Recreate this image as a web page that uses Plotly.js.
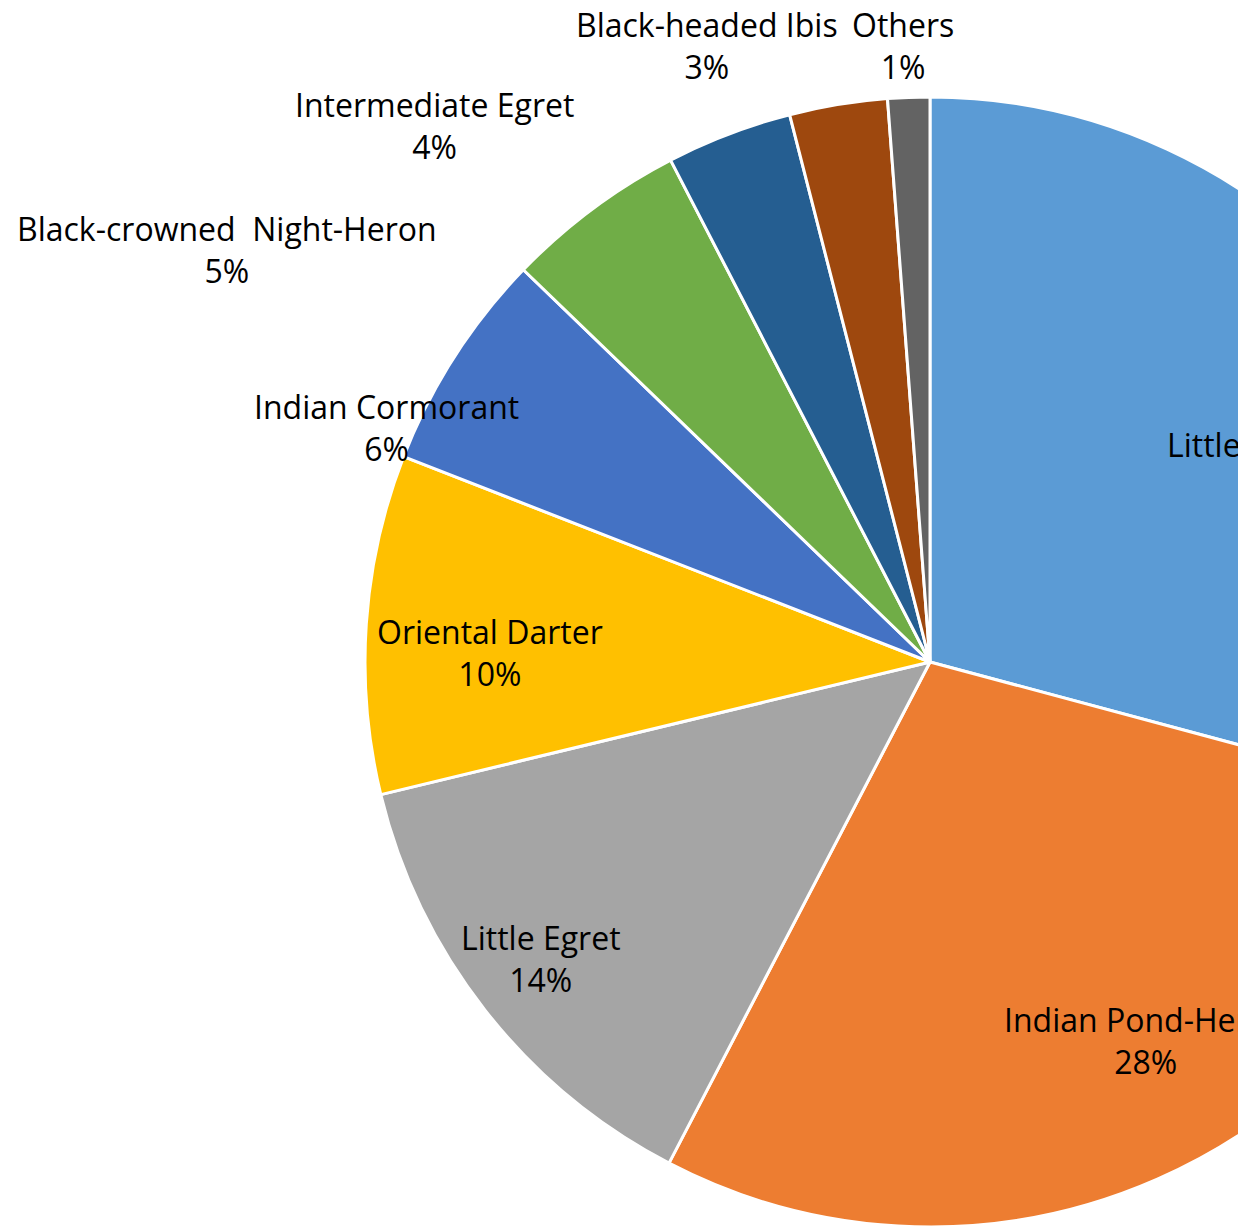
<!DOCTYPE html>
<html>
<head>
<meta charset="utf-8">
<script src="https://cdn.plot.ly/plotly-3.0.1.min.js"></script>
<style>
html,body{margin:0;padding:0;overflow:hidden;background:#fff;}
#chart{width:1600px;height:1228px;}
</style>
</head>
<body>
<div id="chart"></div>
<script>
// ---- data ----
const species = ["Little Cormorant","Indian Pond-Heron","Little Egret","Oriental Darter","Indian Cormorant","Black-crowned  Night-Heron","Intermediate Egret","Black-headed Ibis","Others"];
const shares = [29.2,28.5,13.6,9.7,6.3,5.2,3.6,2.8,1.2];
const colors = ["#5B9BD5","#ED7D31","#A5A5A5","#FFC000","#4472C4","#70AD47","#255E91","#9E480E","#636363"];

// ---- layout ----
const W = 1600, H = 1228, cx = 930, cy = 662, r = 565;
// label anchor points (pixels from top-left), one per slice, in the same order
const labelPx = [[1289,466],[1145,1040],[541,958],[490,652],[386,428],[227,250],[434,125],[707,45],[903,45]];

const total = shares.reduce((a, b) => a + b, 0);
const annotations = species.map((name, i) => ({
  xref: "paper", yref: "paper",
  x: labelPx[i][0] / W, y: 1 - labelPx[i][1] / H,
  xanchor: "center", yanchor: "middle",
  align: "center",
  showarrow: false,
  text: name + "<br>" + Math.round(shares[i] / total * 100) + "%",
  font: {family: "Open Sans, sans-serif", size: 32, color: "#000000"}
}));

Plotly.newPlot("chart", [{
  type: "pie",
  labels: species,
  values: shares,
  sort: false,
  direction: "clockwise",
  rotation: 0,
  marker: {colors: colors, line: {color: "#ffffff", width: 3}},
  textinfo: "none",
  hoverinfo: "none",
  domain: {x: [(cx - r) / W, (cx + r) / W], y: [(H - cy - r) / H, (H - cy + r) / H]}
}], {
  width: W, height: H,
  margin: {l: 0, r: 0, t: 0, b: 0},
  showlegend: false,
  paper_bgcolor: "#ffffff",
  annotations: annotations
}, {staticPlot: true, displayModeBar: false});
</script>
</body>
</html>
